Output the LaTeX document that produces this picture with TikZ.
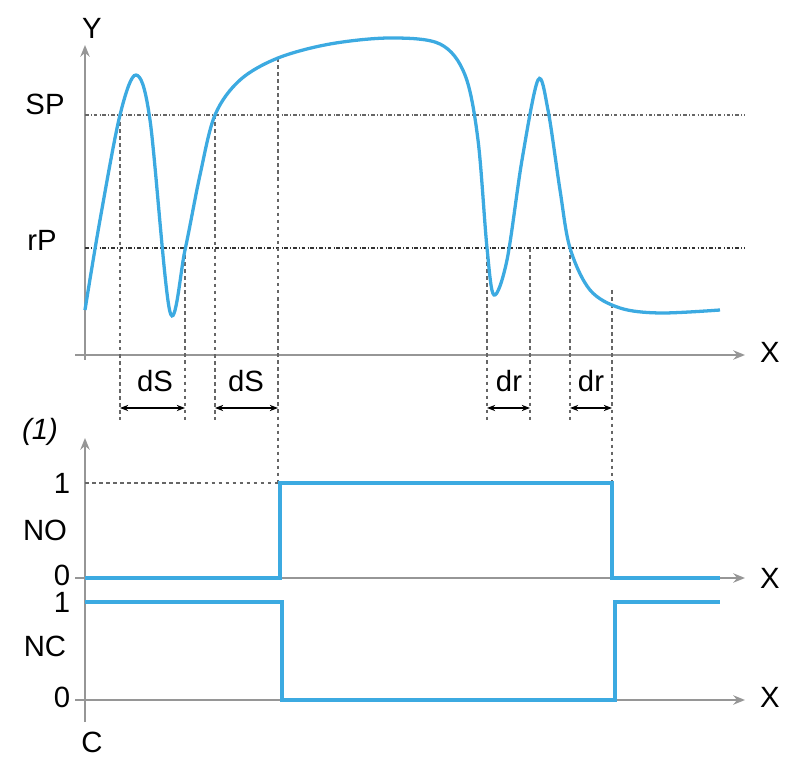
\documentclass[tikz,border=0pt]{standalone}
\usepackage{fontspec}
\setmainfont{Liberation Sans}
\usetikzlibrary{arrows.meta}
\definecolor{sig}{RGB}{60,170,225}
\definecolor{ax}{RGB}{150,150,150}
\begin{document}
\begin{tikzpicture}[x=0.03cm,y=-0.03cm,
  axis/.style={ax,line width=2.2pt,-{Stealth[length=10pt,width=8pt]}},
  vdash/.style={black!60,dashed,line width=1.1pt},
  lvl/.style={black!80,dash dot,line width=1.8pt},
  sigl/.style={sig,line width=2.8pt},
  lab/.style={font=\fontsize{25}{25}\selectfont},
  dim/.style={black,line width=1.2pt,{Stealth[length=7pt]}-{Stealth[length=7pt]}}]
\useasboundingbox (0,0) rectangle (800,765);
% top axes
\coordinate (yt) at (85,45);
\coordinate (xe) at (745,355);
\draw[axis] (75,355) -- (xe);
\draw[axis] (85,360) -- (yt);
\node[lab] (Y) at (92,28) {Y};
\node[lab] (X1) at (770,352) {X};
\node[lab] (SP) at (45,104) {SP};
\node[lab] (rP) at (42,240) {rP};
\draw[lvl,black!60] (85,115) -- (745,115);
\draw[lvl] (85,248) -- (745,248);
% dashed verticals
\foreach \x/\a in {120/115,185/248,215/115,487/248,530/248,570/248}
  \draw[vdash] (\x,\a) -- (\x,420);
\draw[vdash] (278,58) -- (278,483);
\draw[vdash] (612,290) -- (612,483);
% curve
\draw[sigl] plot[smooth,tension=0.55] coordinates {(85,310) (100,220) (120,115) (136,75) (150,120) (170,312) (185,250) (200,175) (215,115) (240,80) (278,58) (330,44) (390,38) (440,44) (465,75) (478,140) (487,248) (494,295) (507,260) (522,160) (538,80) (548,110) (560,190) (570,248) (590,290) (620,308) (660,313) (720,310)};
% dims
\node[lab] (d1) at (155,381) {dS};
\node[lab] (d2) at (246,381) {dS};
\node[lab] (d3) at (509,381) {dr};
\node[lab] (d4) at (591,381) {dr};
\coordinate (a1) at (120,408); \coordinate (b1) at (185,408);
\coordinate (a2) at (215,408); \coordinate (b2) at (278,408);
\coordinate (a3) at (487,408); \coordinate (b3) at (530,408);
\coordinate (a4) at (570,408); \coordinate (b4) at (612,408);
\foreach \i in {1,2,3,4} \draw[dim] (a\i) -- (b\i);
% lower axes
\draw[axis] (85,722) -- (85,438);
\draw[axis] (75,578) -- (745,578);
\draw[axis] (75,700) -- (745,700);
\node[lab,font=\fontsize{25}{25}\selectfont\itshape] (one) at (40,432) {(1)};
\node[lab] (X2) at (770,578) {X};
\node[lab] (X3) at (770,697) {X};
\node[lab] (n1) at (62,483) {1};
\node[lab] (NO) at (45,530) {NO};
\node[lab] (n0) at (62,575) {0};
\node[lab] (m1) at (62,602) {1};
\node[lab] (NC) at (45,646) {NC};
\node[lab] (m0) at (62,697) {0};
\node[lab] (C) at (92,742) {C};
\draw[vdash] (85,483) -- (278,483);
\draw[sigl] (85,578) -- (280,578) -- (280,483) -- (612,483) -- (612,578) -- (720,578);
\draw[sigl] (85,602) -- (282,602) -- (282,700) -- (615,700) -- (615,602) -- (720,602);
\end{tikzpicture}
\end{document}
